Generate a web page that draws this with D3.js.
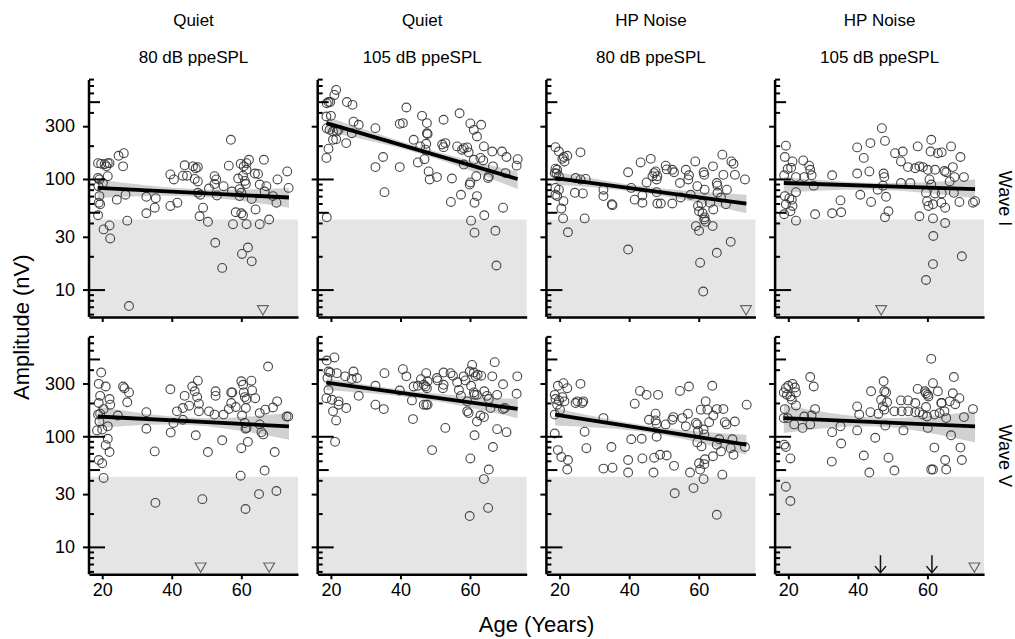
<!DOCTYPE html>
<html>
<head>
<meta charset="utf-8">
<title>Amplitude by age</title>
<script src="https://cdn.jsdelivr.net/npm/d3@7"></script>
<style>
	body {
		margin: 0;
		background: #fff;
		font-family: "Liberation Sans", Arial, Helvetica, sans-serif;
	}
</style>
</head>
<body>
<div id="chart"></div>
<script>

// ---- data ----

const conditions = ["Quiet", "Quiet", "HP Noise", "HP Noise"];
const levels     = ["80 dB ppeSPL", "105 dB ppeSPL", "80 dB ppeSPL", "105 dB ppeSPL"];
const waves      = ["Wave I", "Wave V"];
const yLabelTicks = [10, 30, 100, 300];
const yMinorTicks = [6, 7, 8, 9, 20, 40, 60, 70, 80, 90, 200, 400, 600, 700, 800];
const yMidTicks   = [50, 500];
const yMajorTicks = [10, 100];
const xTicks      = [20, 40, 60];
const noiseFloor  = 43;   // nV, shaded region below

// [age (years), amplitude (nV)]
const waveIQuiet80 = [
	[18.8,139],[19.7,137],[20.7,136],[21.6,139],[22.1,139],[21.2,130],[24.7,162],[26.2,171],[26.0,130],[21.6,106],
	[18.8,102],[19.2,99],[20.2,92],[18.9,86],[19.2,70],[19.0,61],[19.4,59],[18.8,47],[20.4,35],[22.1,38],
	[22.3,29],[24.2,65],[26.7,72],[27.2,42],[27.7,7.1],[32.7,69],[35.4,67],[32.7,49],[35.1,55],[39.6,110],
	[40.6,99],[39.6,57],[41.6,61],[43.7,133],[43.2,107],[44.4,107],[46.1,130],[46.9,125],[47.5,128],[46.6,100],
	[47.5,95],[47.5,75],[48.2,72],[49.0,55],[48.0,46],[50.4,41],[50.7,82],[52.3,90],[52.3,106],[53.0,71],
	[52.5,26.5],[54.5,15.7],[54.9,86],[56.4,132],[57.0,226],[57.3,77],[57.6,39],[58.4,50],[60.0,49],[60.5,47],
	[59.1,101],[60.5,107],[59.5,81],[60.0,75],[59.8,137],[60.7,130],[61.5,139],[62.2,149],[61.0,96],[61.3,90],
	[61.5,39],[60.2,21],[61.9,24],[63.0,18],[61.5,121],[63.0,66],[63.9,112],[64.8,111],[64.1,53],[65.3,89],
	[65.3,39],[66.5,149],[67.2,86],[68.0,43],[69.1,70],[70.1,61],[70.4,99],[73.2,117],[73.6,83],[59.5,70],
	[66.7,77],[52.8,99]
];
const waveIQuiet105 = [
	[21.5,638],[21.0,575],[19.3,496],[18.8,484],[19.8,496],[18.7,367],[20.0,372],[24.6,496],[26.2,468],[18.8,288],
	[19.6,278],[20.6,268],[21.7,268],[22.2,278],[26.5,330],[28.0,309],[26.0,259],[20.6,226],[21.5,229],[24.4,211],
	[19.3,188],[18.7,155],[18.8,45],[32.8,288],[32.8,128],[35.0,158],[35.4,76],[39.8,128],[39.8,315],[40.7,320],
	[41.7,443],[43.8,226],[45.0,141],[46.2,372],[47.2,184],[46.9,151],[47.6,320],[47.6,259],[47.8,255],[47.4,208],
	[48.1,117],[48.4,99],[50.5,104],[52.4,343],[52.9,211],[52.4,194],[54.8,101],[54.5,62],[56.3,197],[57.0,393],
	[57.4,72],[58.2,190],[59.2,193],[59.6,174],[60.1,318],[61.1,278],[62.0,242],[63.2,309],[64.0,197],[60.1,93],
	[59.9,89],[61.3,61],[62.0,70],[61.8,106],[61.1,149],[63.0,155],[63.8,147],[60.3,42],[61.3,32.7],[64.1,47],
	[67.3,34],[67.6,16.5],[69.5,55],[65.4,106],[65.2,102],[66.4,177],[66.6,130],[69.2,177],[70.5,158],[73.7,151],
	[73.4,132],[70.2,113],[45.7,197],[52.0,205],[57.7,184],[58.2,135]
];
const waveIHp80 = [
	[18.8,194],[19.8,177],[21.2,158],[22.2,162],[20.8,152],[21.4,144],[18.8,124],[19.3,121],[18.6,113],[19.1,112],
	[19.8,106],[26.0,174],[18.8,83],[19.8,80],[18.8,72],[19.3,70],[21.1,63],[20.5,54],[21.0,44],[22.4,33],
	[24.4,75],[26.7,74],[27.2,44],[24.6,102],[26.0,99],[27.5,100],[32.6,80],[32.6,70],[35.0,59],[35.2,58],
	[39.7,115],[39.7,23],[40.6,83],[41.6,65],[43.3,141],[43.8,71],[43.8,61],[45.0,93],[46.2,152],[46.7,106],
	[47.2,113],[47.6,117],[48.1,106],[47.9,99],[47.9,76],[48.1,60],[49.1,60],[50.5,132],[50.8,122],[52.4,121],
	[52.9,115],[52.4,60],[54.6,92],[54.8,68],[56.3,121],[57.2,108],[57.0,99],[57.7,72],[59.0,144],[59.2,37.5],
	[59.6,86],[59.8,57],[60.1,51],[60.4,17.5],[60.1,34],[60.8,60],[61.4,115],[61.6,109],[61.7,80],[61.1,49],
	[61.6,43],[61.7,45],[62.0,41],[61.3,9.6],[63.3,61],[64.0,37.5],[64.1,130],[64.2,53],[65.2,92],[65.4,87],
	[65.2,21.5],[65.4,75],[66.8,166],[67.1,109],[66.4,68],[67.8,59],[68.1,80],[69.2,27],[69.4,144],[70.0,137],
	[70.4,109],[73.3,99]
];
const waveIHp105 = [
	[19.3,200],[19.0,158],[21.2,144],[24.3,147],[26.0,132],[26.3,121],[20.8,126],[19.8,123],[18.8,108],[19.0,70],
	[20.3,67],[21.0,65],[19.3,59],[21.2,57],[18.8,48],[20.6,51],[22.2,42],[22.2,104],[24.6,104],[26.7,108],
	[27.3,87],[22.2,76],[27.7,48],[32.6,108],[32.6,49],[35.0,64],[35.2,50],[39.8,193],[39.8,112],[41.7,155],
	[40.7,72],[43.3,117],[43.6,211],[43.8,62],[46.9,288],[47.8,221],[47.4,112],[47.6,104],[47.2,87],[45.7,80],
	[48.1,69],[48.8,51],[47.8,45],[50.7,171],[52.9,177],[52.4,144],[54.4,128],[52.4,92],[55.1,92],[56.5,125],
	[57.2,197],[57.7,130],[58.7,128],[57.7,46],[60.1,121],[61.1,226],[60.9,177],[62.2,121],[63.0,171],[64.1,174],
	[60.6,99],[61.1,89],[59.6,75],[59.9,63],[60.3,57],[61.6,59],[62.2,74],[64.1,74],[64.0,61],[65.1,55],
	[61.6,44],[65.1,40],[64.9,118],[65.4,115],[66.4,95],[66.8,197],[67.3,128],[67.6,75],[67.8,104],[69.2,62],
	[69.5,158],[70.5,104],[61.7,30.5],[61.6,17],[59.6,12.2],[69.9,20],[73.1,61],[73.7,63]
];
const waveVQuiet80 = [
	[19.7,377],[19.0,298],[21.0,282],[19.4,232],[22.1,217],[22.3,193],[19.0,200],[20.4,176],[18.8,157],[19.4,160],
	[19.2,136],[18.5,113],[20.0,115],[21.6,123],[21.6,95],[21.0,83],[22.1,72],[19.0,61],[20.0,57],[20.4,42],
	[26.0,282],[26.4,272],[27.7,249],[27.2,203],[24.5,154],[32.7,165],[32.7,117],[35.1,73],[35.3,25],[39.6,266],
	[39.7,108],[41.5,168],[40.5,132],[43.2,141],[43.7,232],[43.2,180],[45.0,189],[45.9,282],[46.6,255],[47.5,318],
	[47.3,226],[47.8,197],[47.8,168],[46.9,102],[48.8,27],[50.4,72],[50.7,168],[52.3,157],[52.6,255],[52.6,232],
	[54.5,92],[54.9,157],[56.4,176],[57.1,249],[57.4,249],[57.1,200],[58.4,184],[60.0,314],[60.5,292],[60.7,249],
	[61.0,226],[61.5,217],[61.3,180],[61.0,132],[61.2,117],[60.2,154],[60.0,78],[59.8,44],[61.9,89],[61.5,119],
	[62.9,318],[63.1,260],[64.0,221],[65.3,162],[65.3,128],[65.8,109],[66.3,104],[67.7,427],[66.9,174],[69.1,182],
	[70.3,207],[69.6,72],[66.7,49],[65.1,30],[61.2,22],[70.1,32],[73.5,151],[73.0,151]
];
const waveVQuiet105 = [
	[21.0,516],[18.8,484],[19.3,385],[19.8,377],[19.0,336],[21.7,372],[24.1,348],[26.0,330],[26.5,385],[27.5,336],
	[18.7,221],[20.3,214],[22.2,207],[22.2,193],[20.6,168],[21.5,139],[24.4,180],[21.2,89],[19.3,262],[28.0,232],
	[32.8,286],[32.8,193],[35.2,176],[35.4,372],[39.8,259],[40.7,404],[41.7,348],[43.3,211],[43.6,143],[45.0,286],
	[43.8,282],[45.9,328],[46.7,292],[47.4,372],[47.8,314],[47.6,272],[47.2,282],[46.7,193],[47.4,193],[47.8,193],
	[49.1,75],[50.5,336],[50.7,320],[52.4,377],[52.4,292],[52.2,272],[52.9,119],[54.4,372],[55.1,353],[56.3,308],
	[56.8,262],[57.4,232],[58.2,348],[58.7,320],[59.2,207],[59.9,385],[59.2,168],[59.6,162],[60.3,286],[60.6,442],
	[61.1,377],[61.1,249],[61.3,237],[61.6,348],[62.0,237],[62.2,360],[63.0,154],[63.2,353],[62.0,136],[64.0,149],
	[64.1,255],[64.9,232],[65.4,217],[66.4,348],[67.1,468],[65.9,180],[67.8,237],[69.5,295],[70.0,180],[69.5,176],
	[70.5,109],[67.8,116],[73.6,348],[73.4,242],[61.3,102],[60.1,63],[66.6,80],[65.4,50],[64.0,41],[65.2,22.5],
	[59.9,19]
];
const waveVHp80 = [
	[19.5,286],[21.1,302],[22.2,272],[18.6,237],[18.8,217],[19.8,211],[20.8,226],[21.4,207],[19.3,193],[20.1,174],
	[18.6,157],[26.0,298],[24.6,200],[25.1,207],[26.5,200],[26.8,207],[18.6,106],[19.5,75],[20.5,65],[22.4,61],
	[22.2,50],[27.2,110],[27.7,78],[32.6,146],[32.6,51],[34.9,80],[35.2,52],[39.7,61],[39.7,47],[40.6,94],
	[41.6,197],[43.6,95],[43.8,63],[43.1,257],[45.0,237],[45.7,141],[47.6,160],[47.6,139],[47.9,130],[48.3,237],
	[47.2,64],[47.0,47],[47.9,99],[48.9,68],[50.8,67],[50.5,128],[52.4,141],[52.7,149],[52.9,54],[53.1,30.5],
	[54.6,257],[55.3,146],[57.2,282],[56.9,160],[56.3,123],[57.5,47],[58.5,34],[59.2,132],[59.6,128],[59.8,111],
	[59.6,88],[60.1,57],[60.4,50],[60.8,81],[61.4,115],[61.6,104],[61.6,56],[61.4,41],[61.8,62],[60.6,174],
	[62.5,174],[62.0,207],[63.0,134],[63.9,286],[64.2,154],[65.2,176],[65.2,84],[65.9,94],[66.4,73],[64.1,66],
	[66.8,45],[67.1,176],[67.5,134],[68.0,128],[69.7,94],[69.2,78],[70.0,68],[70.4,136],[73.3,80],[73.8,193],
	[65.2,19.5]
];
const waveVHp105 = [
	[19.3,272],[18.7,249],[20.0,286],[21.2,298],[21.9,276],[22.2,249],[19.6,237],[20.6,229],[21.0,214],[19.0,176],
	[22.2,190],[18.7,146],[19.8,146],[21.7,128],[24.1,119],[24.6,151],[26.3,128],[26.7,154],[27.7,176],[26.3,343],
	[27.3,282],[18.8,84],[19.3,80],[20.6,63],[19.3,35],[20.6,26],[32.6,109],[32.5,59],[35.0,123],[35.2,86],
	[39.8,113],[39.8,186],[40.4,157],[41.7,67],[43.3,47],[43.8,255],[43.6,165],[45.0,97],[45.9,160],[46.7,214],
	[47.2,186],[47.4,314],[47.6,255],[48.1,249],[48.4,203],[47.6,174],[47.9,125],[48.8,64],[50.5,168],[50.5,49],
	[52.4,211],[52.6,168],[53.1,113],[54.4,211],[54.5,168],[56.5,200],[56.5,165],[57.2,268],[57.7,165],[58.7,157],
	[59.3,255],[59.6,245],[60.1,237],[60.3,229],[59.6,184],[59.9,151],[60.1,119],[61.1,501],[61.6,302],[62.0,157],
	[62.0,79],[63.0,255],[63.5,162],[64.0,200],[64.1,200],[64.9,168],[65.4,146],[66.4,207],[67.3,245],[67.6,343],
	[68.0,195],[69.2,221],[66.8,102],[69.5,79],[65.1,61],[69.9,61],[65.4,50],[61.1,50],[61.6,50],[70.5,149],
	[73.1,176]
];

const points = [
	[waveIQuiet80, waveIQuiet105, waveIHp80, waveIHp105],
	[waveVQuiet80, waveVQuiet105, waveVHp80, waveVHp105]
];

// linear fits on log amplitude, read at youngest / middle / oldest age
const fitAges = [18.7, 46.2, 73.7];
const fitLine = [
	[[83, 68], [320, 100], [102, 60], [92, 81]],
	[[151, 123], [306, 177], [157, 84], [146, 123]]
];
const fitLower = [
	[[67, 69.5, 55], [268, 167, 81], [89, 73, 49], [75, 80, 67]],
	[[119, 126, 93], [262, 217, 146], [125, 107, 68], [107, 122, 88]]
];
const fitUpper = [
	[[99, 81, 83], [367, 192, 117], [117, 84, 72], [104, 92, 99]],
	[[186, 147, 162], [334, 250, 217], [180, 123, 103], [192, 147, 168]]
];

// ages of listeners with no measurable response (triangles) and arrows
const noResponse = [
	[[66.2], [], [73.6], [46.7]],
	[[48.3, 68.0], [], [], [73.5]]
];
const arrowAges = [
	[[], [], [], []],
	[[], [], [], [46.5, 61.3]]
];
const markerLevel = 6.7;   // nV, where triangles sit

// ---- layout ----

const width  = 1015;
const height = 639;
const panelLeft = 89, panelTop = 80;
const panelW = 209, panelH = 237;
const colStep = 228.7, rowStep = 257.3;

const x = d3.scaleLinear([16.2, 76.3], [0, panelW]);
const y = d3.scaleLog([5.65, 785], [panelH, 0]);

const svg = d3.select("#chart").append("svg")
	.attr("width", width)
	.attr("height", height)
	.attr("viewBox", [0, 0, width, height])
	.style("font-family", '"Liberation Sans", Arial, Helvetica, sans-serif');

const area = d3.area()
	.x((d, i) => x(fitAges[i]))
	.y0(d => y(d[0]))
	.y1(d => y(d[1]))
	.curve(d3.curveNatural);

const tri = d3.symbol(d3.symbolTriangle, 50);

waves.forEach((wave, r) => {
	conditions.forEach((cond, c) => {
		const g = svg.append("g")
			.attr("transform", `translate(${panelLeft + c * colStep},${panelTop + r * rowStep})`);

		// noise floor
		g.append("rect")
			.attr("x", 0)
			.attr("y", y(noiseFloor))
			.attr("width", panelW)
			.attr("height", panelH - y(noiseFloor))
			.attr("fill", "#e5e5e5");

		// confidence band
		const band = fitLower[r][c].map((lo, i) => [lo, fitUpper[r][c][i]]);
		g.append("path")
			.datum(band)
			.attr("d", area)
			.attr("fill", "#9a9a9a")
			.attr("fill-opacity", 0.45);

		// points
		g.append("g")
			.selectAll("circle")
			.data(points[r][c])
			.join("circle")
			.attr("cx", d => x(d[0]))
			.attr("cy", d => y(d[1]))
			.attr("r", 4.4)
			.attr("fill", "none")
			.attr("stroke", "#333")
			.attr("stroke-opacity", 0.9)
			.attr("stroke-width", 1.1);

		// fit line
		const f = fitLine[r][c];
		g.append("line")
			.attr("x1", x(fitAges[0])).attr("y1", y(f[0]))
			.attr("x2", x(fitAges[2])).attr("y2", y(f[1]))
			.attr("stroke", "#000")
			.attr("stroke-width", 3.8);

		// no-response markers
		g.append("g")
			.selectAll("path")
			.data(noResponse[r][c])
			.join("path")
			.attr("d", tri)
			.attr("transform", d => `translate(${x(d)},${y(markerLevel)}) rotate(180)`)
			.attr("fill", "none")
			.attr("stroke", "#666")
			.attr("stroke-width", 1.2);

		const arr = g.append("g")
			.selectAll("g")
			.data(arrowAges[r][c])
			.join("g")
			.attr("transform", d => `translate(${x(d)},0)`)
			.attr("stroke", "#111")
			.attr("stroke-width", 1.5)
			.attr("fill", "none");
		arr.append("line")
			.attr("y1", y(8.4)).attr("y2", y(5.85));
		arr.append("path")
			.attr("d", `M-5.5,${y(5.85) - 6.5}L0,${y(5.85)}L5.5,${y(5.85) - 6.5}`);

		// y axis: labelled ticks outside, minor ticks inside
		const yl = g.append("g")
			.call(d3.axisLeft(y).tickValues(yLabelTicks).tickFormat(d3.format("d"))
				.tickSize(6).tickSizeOuter(0).tickPadding(8))
			.call(a => a.select(".domain").remove());
		yl.selectAll("line").attr("stroke-width", 2);
		yl.selectAll("text").style("font-size", "18px").attr("fill", "#000");
		if (c > 0) yl.selectAll("text").remove();

		[[yMinorTicks, 5], [yMidTicks, 11], [yMajorTicks, 16]].forEach(([vals, len]) => {
			g.append("g")
				.call(d3.axisRight(y).tickValues(vals).tickFormat("").tickSize(len).tickSizeOuter(0))
				.call(a => a.select(".domain").remove())
				.selectAll("line").attr("stroke-width", 2);
		});

		g.append("line")
			.attr("x1", 0).attr("x2", 0)
			.attr("y1", 0).attr("y2", panelH)
			.attr("stroke", "#000")
			.attr("stroke-width", 2.5);

		// x axis
		const xa = g.append("g")
			.attr("transform", `translate(0,${panelH})`)
			.call(d3.axisBottom(x).tickValues(xTicks).tickSize(5).tickSizeOuter(0).tickPadding(4));
		xa.select(".domain").attr("stroke-width", 2.5);
		xa.selectAll("line").attr("stroke-width", 2);
		xa.selectAll("text").style("font-size", "18px").attr("fill", "#000");
		if (r === 0) xa.selectAll("text").remove();
	});

	// strip label on the right
	svg.append("text")
		.attr("transform", `translate(1005,${panelTop + r * rowStep + panelH / 2}) rotate(90)`)
		.attr("text-anchor", "middle")
		.attr("dominant-baseline", "central")
		.style("font-size", "18px")
		.text(wave);
});

// column headers
conditions.forEach((cond, c) => {
	const cx = panelLeft + c * colStep + panelW / 2;
	svg.append("text")
		.attr("x", cx).attr("y", 26)
		.attr("text-anchor", "middle")
		.style("font-size", "17px")
		.text(cond);
	svg.append("text")
		.attr("x", cx).attr("y", 63)
		.attr("text-anchor", "middle")
		.style("font-size", "17px")
		.text(levels[c]);
});

// axis titles
svg.append("text")
	.attr("x", panelLeft + (3 * colStep + panelW) / 2)
	.attr("y", 632)
	.attr("text-anchor", "middle")
	.style("font-size", "22px")
	.text("Age (Years)");

svg.append("text")
	.attr("transform", `translate(29,${panelTop + (rowStep + panelH) / 2}) rotate(-90)`)
	.attr("text-anchor", "middle")
	.style("font-size", "22px")
	.text("Amplitude (nV)");

</script>
</body>
</html>
